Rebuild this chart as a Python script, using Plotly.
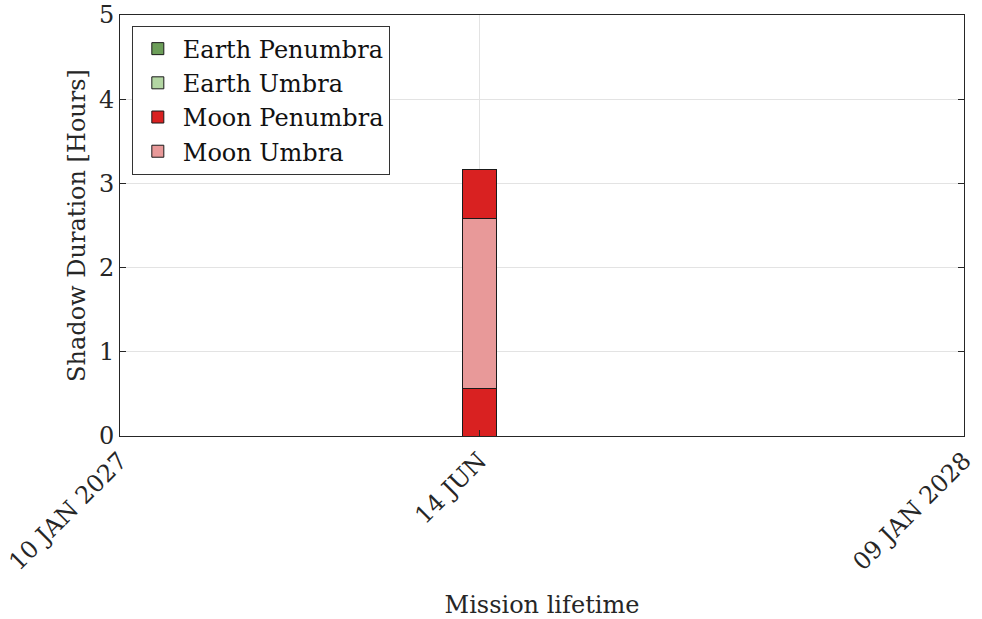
import plotly.graph_objects as go

# Shadow events over the mission lifetime (durations in hours)
event_dates = ["2027-06-14"]
moon_penumbra_before = [0.56]
moon_umbra = [2.02]
moon_penumbra_after = [0.58]
earth_penumbra = [0.0]
earth_umbra = [0.0]

x_start = "2027-01-10"
x_end = "2028-01-09"
tick_vals = ["2027-01-10", "2027-06-14", "2028-01-09"]
tick_text = ["10 JAN 2027", "14 JUN", "09 JAN 2028"]

colors = {
    "Earth Penumbra": "#6C9E59",
    "Earth Umbra": "#B3D6A3",
    "Moon Penumbra": "#D92121",
    "Moon Umbra": "#E89999",
}

bar_width_ms = 15 * 24 * 3600 * 1000
font_family = "DejaVu Serif, Liberation Serif, serif"
fs = 24

fig = go.Figure()

def add_bar(name, values, show_legend=True):
    fig.add_trace(go.Bar(
        x=event_dates, y=values, name=name,
        width=bar_width_ms,
        marker=dict(color=colors[name], line=dict(color="#1a1a1a", width=1)),
        showlegend=show_legend, legendgroup=name,
    ))

add_bar("Earth Penumbra", earth_penumbra)
add_bar("Earth Umbra", earth_umbra)
add_bar("Moon Penumbra", moon_penumbra_before)
add_bar("Moon Umbra", moon_umbra)
add_bar("Moon Penumbra", moon_penumbra_after, show_legend=False)

fig.update_layout(
    barmode="stack",
    width=982, height=619,
    margin=dict(l=120, r=18, t=15, b=183),
    paper_bgcolor="white", plot_bgcolor="white",
    font=dict(family=font_family, size=fs, color="#262626"),
    legend=dict(
        x=0.014, y=0.975, xanchor="left", yanchor="top",
        bgcolor="white", bordercolor="#333333", borderwidth=1,
        font=dict(size=fs, color="#111111"),
        itemwidth=40, tracegroupgap=0,
        traceorder="normal",
    ),
    xaxis=dict(
        type="date",
        range=[x_start, x_end],
        tickvals=tick_vals, ticktext=tick_text,
        tickangle=-45,
        ticks="inside", ticklen=6, tickcolor="#262626",
        showgrid=True, gridcolor="#E3E3E3", gridwidth=1,
        showline=True, linecolor="#262626", linewidth=1, mirror=True,
        zeroline=False, automargin=False,
        tickfont=dict(size=fs),
        title=dict(text="Mission lifetime", font=dict(size=fs), standoff=22),
    ),
    yaxis=dict(
        range=[0, 5],
        tickvals=[0, 1, 2, 3, 4, 5],
        ticks="inside", ticklen=6, tickcolor="#262626",
        showgrid=True, gridcolor="#E3E3E3", gridwidth=1,
        showline=True, linecolor="#262626", linewidth=1, mirror="ticks",
        zeroline=False, automargin=False,
        tickfont=dict(size=fs),
        title=dict(text="Shadow Duration [Hours]", font=dict(size=fs), standoff=6),
    ),
)

fig.write_html("out.html")
